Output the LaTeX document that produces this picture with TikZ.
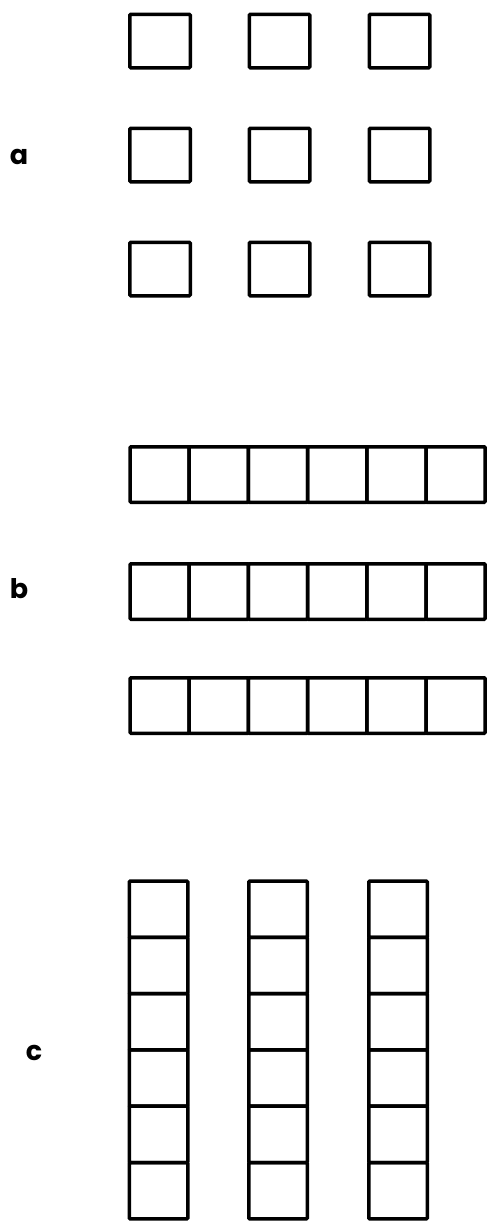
\documentclass[tikz,border=0pt]{standalone}
\usepackage{fontspec}
\newfontfamily\labfont{Poppins}[UprightFont=* Bold]
\begin{document}
\begin{tikzpicture}[x=1pt,y=-1pt,
  cell/.style={draw=black,line width=3.5pt,rectangle,inner sep=0pt,rounded corners=1pt},
  sq/.style={cell,minimum width=60.5pt,minimum height=53.5pt},
  hcell/.style={cell,minimum width=59.2pt,minimum height=55.5pt},
  vcell/.style={cell,minimum width=58.5pt,minimum height=56.3pt},
  lab/.style={inner sep=0pt,font=\labfont\fontsize{27}{30}\selectfont}]
\useasboundingbox (0,0) rectangle (487,1224);
% labels
\node[lab] (la) at (19,157) {a};
\node[lab] (lb) at (19,589) {b};
\node[lab] (lc) at (34,1053) {c};
% section a
\foreach \c/\xc in {1/160,2/279.5,3/399.5}{
  \foreach \r/\yc in {1/41,2/155,3/269}{
    \node[sq] (a-\r-\c) at (\xc,\yc) {};
  }
}
% section b
\foreach \r/\yc in {1/474.5,2/591.5,3/705.5}{
  \foreach \i in {0,...,5}{
    \node[hcell] (b-\r-\i) at ({130+59.2*(\i+0.5)},\yc) {};
  }
}
% section c
\foreach \c/\xc in {1/158.5,2/278,3/398}{
  \foreach \i in {0,...,5}{
    \node[vcell] (c-\c-\i) at (\xc,{881+56.3*(\i+0.5)}) {};
  }
}
\end{tikzpicture}
\end{document}
